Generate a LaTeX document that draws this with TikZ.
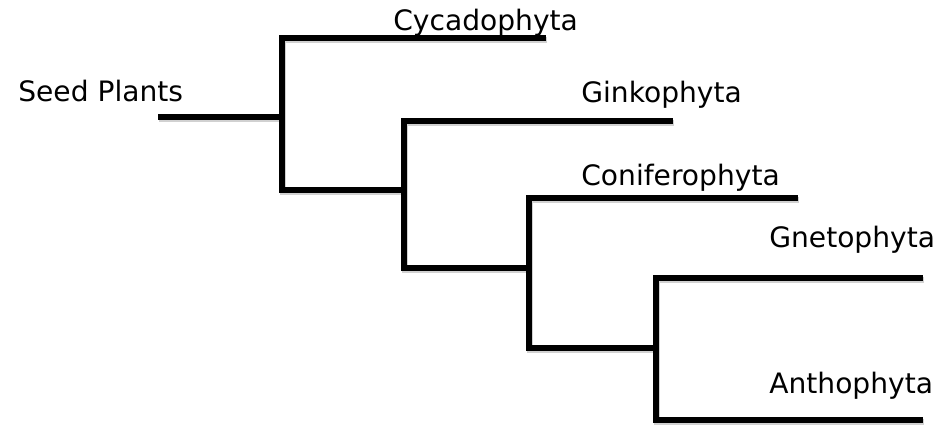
\documentclass[tikz,border=0pt]{standalone}
\usepackage{fontspec}
\setmainfont{DejaVu Sans}
\usetikzlibrary{calc,positioning}
\tikzset{
  branch/.style={
    line width=3.4pt,
    line cap=butt,
    line join=miter,
    preaction={draw=black!18, line width=3.4pt, transform canvas={shift={(0.6pt,-1.1pt)}}}
  },
  taxon/.style={
    anchor=base west,
    inner sep=0pt,
    font=\fontsize{16}{19}\selectfont
  }
}

\begin{document}
\begin{tikzpicture}

  \useasboundingbox (0,0) rectangle (19.02,8.54);

  % splits of the ladder
  \coordinate (root) at (3.16,6.20);
  \coordinate (split_1) at (5.64,6.20);
  \coordinate (split_2) at (8.08,4.74);
  \coordinate (split_3) at (10.58,3.18);
  \coordinate (split_4) at (13.12,1.58);

  % tips
  \coordinate (cyca_tip) at (10.92,7.78);
  \coordinate (ginko_tip) at (13.46,6.12);
  \coordinate (conif_tip) at (15.96,4.58);
  \coordinate (gneto_tip) at (18.46,2.98);
  \coordinate (antho_tip) at (18.46,0.14);

  \draw[branch] (root) -- (split_1);
  \draw[branch] (cyca_tip) -- (split_1 |- cyca_tip) -- (split_1 |- split_2) -- (split_2);
  \draw[branch] (ginko_tip) -- (split_2 |- ginko_tip) -- (split_2 |- split_3) -- (split_3);
  \draw[branch] (conif_tip) -- (split_3 |- conif_tip) -- (split_3 |- split_4) -- (split_4);
  \draw[branch] (gneto_tip) -- (split_4 |- gneto_tip) -- (split_4 |- antho_tip) -- (antho_tip);

  \node[taxon] at(0.36,6.50) (seed_label) {Seed Plants};
  \node[taxon] at(7.86,7.92) (cyca_label) {Cycadophyta};
  \node[taxon] at(11.62,6.48) (ginko_label) {Ginkophyta};
  \node[taxon] at(11.62,4.84) (conif_label) {Coniferophyta};
  \node[taxon] at(15.38,3.58) (gneto_label) {Gnetophyta};
  \node[taxon] at(15.38,0.68) (antho_label) {Anthophyta};

\end{tikzpicture}
\end{document}
